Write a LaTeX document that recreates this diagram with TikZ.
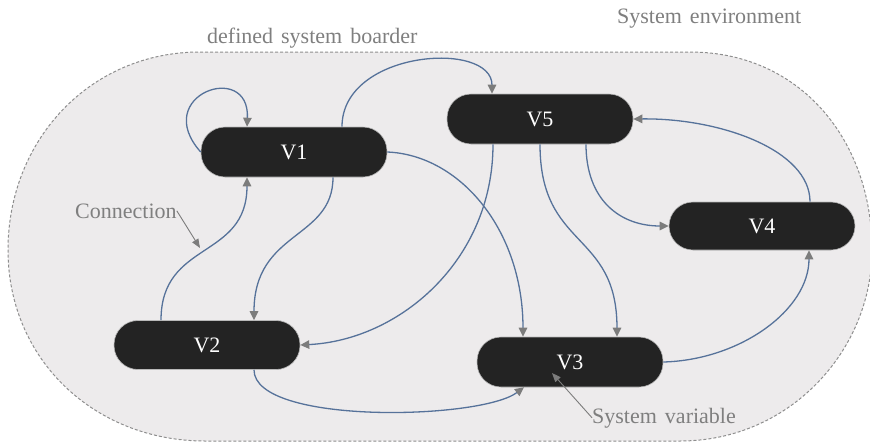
\documentclass[tikz,border=0pt]{standalone}
\usepackage{fontspec}
\setmainfont{Liberation Serif}
\usetikzlibrary{arrows.meta}
\definecolor{areafill}{HTML}{EDEBEC}
\definecolor{areaedge}{HTML}{8E8E8E}
\definecolor{varfill}{HTML}{232323}
\definecolor{linkcol}{HTML}{56729A}
\definecolor{tipcol}{HTML}{7C7C7C}
\definecolor{notecol}{HTML}{7F7F7F}
\newcommand{\wsp}{\hspace{8pt}}
\tikzset{
  varbox/.style={fill=varfill, draw=gray!55, line width=0.6pt,
    rounded corners=24pt, minimum width=186pt, minimum height=50pt,
    inner sep=0pt, text=white, font=\fontsize{22}{26}\selectfont},
  link/.style={draw=linkcol, line width=1.3pt,
    -{Triangle[length=9pt,width=8.5pt,color=tipcol]}},
  note/.style={text=notecol, inner sep=0pt, font=\fontsize{22}{26}\selectfont},
  pointer/.style={draw=tipcol, line width=0.9pt,
    -{Triangle[length=9pt,width=7pt,color=tipcol]}}
}
\begin{document}
\begin{tikzpicture}[x=1pt, y=-1pt]
\useasboundingbox (0,0) rectangle (870,445);

% system border
\draw[fill=areafill, draw=areaedge, line width=1pt, dash pattern=on 3pt off 2pt]
  (200,52) -- (690,52)
  .. controls (800,52) and (872,140) .. (872,250)
  .. controls (872,350) and (790,441) .. (680,441)
  -- (205,441)
  .. controls (95,441) and (8,360) .. (8,250)
  .. controls (8,140) and (90,52) .. (200,52) -- cycle;

% labels
\node[note, anchor=base west] (border) at (207,43) {defined\wsp system\wsp boarder};
\node[note, anchor=base west] (env) at (617,23) {System\wsp environment};

% system variables
\node[varbox] (V1) at (294,152) {V1};
\node[varbox, minimum height=49pt] (V2) at (207,345) {V2};
\node[varbox] (V5) at (540,119) {V5};
\node[varbox] (V3) at (570,362) {V3};
\node[varbox, minimum height=48pt] (V4) at (762,226) {V4};

% connections
\draw[link] (V1.west) .. controls (150,95) and (250,60) .. ([xshift=-47pt]V1.north);
\draw[link] ([xshift=48pt]V1.north) .. controls (342,50) and (492,40) .. ([xshift=-48pt]V5.north);
\draw[link] (V1.east) .. controls (460,155) and (523,230) .. ([xshift=-47pt]V3.north);
\draw[link] ([xshift=39pt]V1.south) .. controls (333,240) and (254,230) .. ([xshift=47pt]V2.north);
\draw[link] ([xshift=-46pt]V2.north) .. controls (161,240) and (247,260) .. ([xshift=-47pt]V1.south);
\draw[link] ([xshift=-47pt]V5.south) .. controls (493,260) and (400,340) .. (V2.east);
\draw[link] (V5.south) .. controls (540,250) and (617,230) .. ([xshift=47pt]V3.north);
\draw[link] ([xshift=46pt]V5.south) .. controls (586,200) and (620,226) .. (V4.west);
\draw[link] ([xshift=48pt]V4.north) .. controls (810,150) and (720,118) .. (V5.east);
\draw[link] (V3.east) .. controls (740,360) and (809,310) .. ([xshift=47pt]V4.south);
\draw[link] ([xshift=47pt]V2.south) .. controls (254,425) and (480,420) .. ([xshift=-46pt]V3.south);

% annotations
\node[note, anchor=base west] (conn) at (75,218) {Connection};
\coordinate (connpt) at (200,248);
\draw[pointer] (conn.east) -- (connpt);

\node[note, anchor=base west] (sysvar) at (592,423) {System\wsp variable};
\coordinate (varpt) at (552,373);
\draw[pointer] (sysvar.west) -- (varpt);
\end{tikzpicture}
\end{document}
